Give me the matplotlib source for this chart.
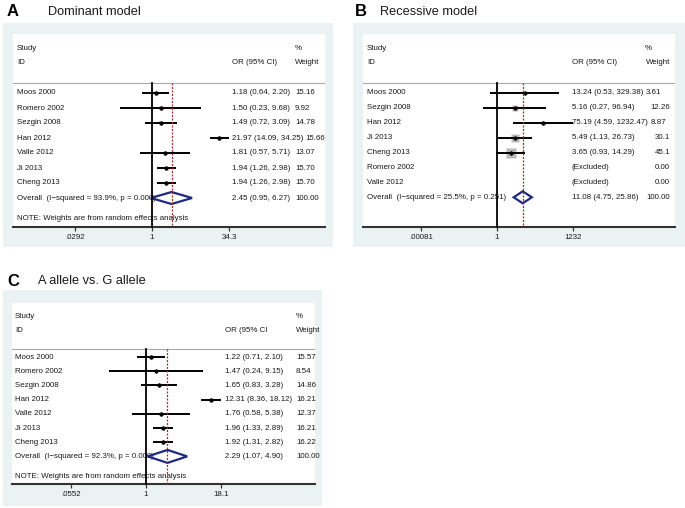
import numpy as np
import matplotlib
matplotlib.use("Agg")
import matplotlib.pyplot as plt
from matplotlib.patches import Rectangle, Polygon
from matplotlib.transforms import blended_transform_factory

plt.rcParams['font.family'] = ['Liberation Sans', 'DejaVu Sans']

W, H = 685, 508

# ---- data -------------------------------------------------------------
# A: dominant model
studies_a = ['Moos 2000', 'Romero 2002', 'Sezgin 2008', 'Han 2012',
             'Valle 2012', 'Ji 2013', 'Cheng 2013']
or_a = [1.18, 1.50, 1.49, 21.97, 1.81, 1.94, 1.94]
lo_a = [0.64, 0.23, 0.72, 14.09, 0.57, 1.26, 1.26]
hi_a = [2.20, 9.68, 3.09, 34.25, 5.71, 2.98, 2.98]
wt_a = ['15.16', '9.92', '14.78', '15.66', '13.07', '15.70', '15.70']
overall_a = [2.45, 0.95, 6.27]
isq_a, p_a = '93.9%', '0.000'
ticks_a = [0.0292, 1, 34.3]
ticklab_a = ['.0292', '1', '34.3']

# B: recessive model (nan = excluded)
studies_b = ['Moos 2000', 'Sezgin 2008', 'Han 2012', 'Ji 2013',
             'Cheng 2013', 'Romero 2002', 'Valle 2012']
or_b = [13.24, 5.16, 75.19, 5.49, 3.65, np.nan, np.nan]
lo_b = [0.53, 0.27, 4.59, 1.13, 0.93, np.nan, np.nan]
hi_b = [329.38, 96.94, 1232.47, 26.73, 14.29, np.nan, np.nan]
wt_b = ['3.61', '12.26', '8.87', '30.1', '45.1', '0.00', '0.00']
overall_b = [11.08, 4.75, 25.86]
isq_b, p_b = '25.5%', '0.251'
ticks_b = [0.00081, 1, 1232]
ticklab_b = ['.00081', '1', '1232']

# C: A allele vs. G allele
studies_c = ['Moos 2000', 'Romero 2002', 'Sezgin 2008', 'Han 2012',
             'Valle 2012', 'Ji 2013', 'Cheng 2013']
or_c = [1.22, 1.47, 1.65, 12.31, 1.76, 1.96, 1.92]
lo_c = [0.71, 0.24, 0.83, 8.36, 0.58, 1.33, 1.31]
hi_c = [2.10, 9.15, 3.28, 18.12, 5.38, 2.89, 2.82]
wt_c = ['15.57', '8.54', '14.86', '16.21', '12.37', '16.21', '16.22']
overall_c = [2.29, 1.07, 4.90]
isq_c, p_c = '92.3%', '0.000'
ticks_c = [0.0552, 1, 18.1]
ticklab_c = ['.0552', '1', '18.1']

BG = '#eaf2f3'
NAVY = '#1f2a80'
TXT = '#1a1a1a'
FS = 5.7

fig = plt.figure(figsize=(W / 100, H / 100), dpi=100)
renderer = fig.canvas.get_renderer()


def forest(letter, title, studies, ors, los, his, wts, overall, isq, pval,
           ticks, ticklabs, g):
    ox0, oy0, ox1, oy1 = g['outer']
    x0, y0, x1, y1 = g['white']
    fig.add_artist(Rectangle((ox0 / W, 1 - oy1 / H), (ox1 - ox0) / W,
                             (oy1 - oy0) / H, transform=fig.transFigure,
                             facecolor=BG, edgecolor='none', zorder=-5))
    fig.text(g['letter'][0] / W, 1 - g['letter'][1] / H, letter,
             fontsize=12, fontweight='bold', va='center', color='black')
    fig.text(g['title_x'] / W, 1 - g['letter'][1] / H, title,
             fontsize=9.2, va='center', color=TXT)

    ax = fig.add_axes([x0 / W, 1 - y1 / H, (x1 - x0) / W, (y1 - y0) / H])
    ax.set_facecolor('white')
    ax.set_xscale('log')
    scale = g['scale']
    ax.set_xlim(np.exp((x0 - g['null_x']) / scale),
                np.exp((x1 - g['null_x']) / scale))
    ax.set_ylim(y1, y0)
    for s in ['top', 'left', 'right']:
        ax.spines[s].set_visible(False)
    ax.spines['bottom'].set_color('#333333')
    ax.spines['bottom'].set_linewidth(1.5)
    ax.set_yticks([])
    ax.set_xticks(ticks)
    ax.set_xticklabels(ticklabs)
    ax.xaxis.set_minor_locator(matplotlib.ticker.NullLocator())
    ax.tick_params(axis='x', length=3, width=0.9, color='#333333',
                   labelsize=FS, pad=2, labelcolor=TXT)

    tr = blended_transform_factory(ax.transAxes, ax.transData)

    def fx(px):
        return (px - x0) / (x1 - x0)

    # header
    sep = g['sep']
    ax.text(fx(g['name_x']), g['study_y'], 'Study', transform=tr,
            fontsize=FS, va='center', color=TXT)
    ax.text(fx(g['name_x']), g['id_y'], 'ID', transform=tr,
            fontsize=FS, va='center', color=TXT)
    ax.text(fx(g['or_x']), g['id_y'], g['or_head'], transform=tr,
            fontsize=FS, va='center', color=TXT)
    ax.text(fx(g['pct_x']), g['study_y'], '%', transform=tr,
            fontsize=FS, va='center', color=TXT)
    ax.text(fx(g['wt_x']), g['id_y'], 'Weight', transform=tr, fontsize=FS,
            va='center', ha=g['wt_ha'], color=TXT, clip_on=False)
    ax.plot([0, 1], [sep, sep], transform=tr, color='#a8a8a8', lw=0.8,
            zorder=1)

    rows = [g['row0'] + i * g['step'] for i in range(len(studies) + 1)]
    k = g['box']
    for i, name in enumerate(studies):
        y = rows[i]
        ax.text(fx(g['name_x']), y, name, transform=tr, fontsize=FS,
                va='center', color=TXT)
        if np.isnan(ors[i]):
            label = '(Excluded)'
        else:
            label = '%.2f (%.2f, %.2f)' % (ors[i], los[i], his[i])
            side = k * np.sqrt(float(wts[i])) * 0.72
            ax.plot([ors[i]], [y], marker='s', ms=side, color='#b8b8b8',
                    mec='none', zorder=3)
            ax.plot([los[i], his[i]], [y, y], color='black', lw=1.4,
                    solid_capstyle='butt', zorder=4)
            ax.plot([ors[i]], [y], marker='D', ms=1.8, color='black',
                    zorder=5)
        t = ax.text(fx(g['or_x']), y, label, transform=tr, fontsize=FS,
                    va='center', color=TXT)
        # weight column; pushed right when the OR text runs into it
        right = t.get_window_extent(renderer).x1 / fig.dpi * 100
        if g['wt_ha'] == 'left':
            wx = max(g['wt_x'], right + 2.5)
            ha = 'left'
        else:
            wx, ha = g['wt_x'], 'right'
            if right + 2.5 > g['pct_x']:
                wx, ha = right + 2.5, 'left'
        ax.text(fx(wx), y, wts[i], transform=tr, fontsize=FS, va='center',
                ha=ha, color=TXT, clip_on=False)

    # overall
    y = rows[-1]
    est, lo, hi = overall
    ax.text(fx(g['name_x']), y,
            'Overall  (I\u2212squared = %s, p = %s)' % (isq, pval),
            transform=tr, fontsize=FS, va='center', color=TXT, zorder=2)
    hh = g['dh']
    ax.add_patch(Polygon([(lo, y), (est, y - hh), (hi, y), (est, y + hh)],
                         closed=True, facecolor='none', edgecolor=NAVY,
                         lw=1.6, zorder=4))
    ax.text(fx(g['or_x']), y, '%.2f (%.2f, %.2f)' % (est, lo, hi),
            transform=tr, fontsize=FS, va='center', color=TXT)
    ax.text(fx(g['wt_x']), y, '100.00', transform=tr, fontsize=FS,
            va='center', ha=g['wt_ha'], color=TXT, clip_on=False)

    if g['note'] is not None:
        ax.text(fx(g['name_x']), g['note'],
                'NOTE: Weights are from random effects analysis',
                transform=tr, fontsize=FS, va='center', color=TXT, zorder=2)

    # null line and overall line
    ax.plot([1, 1], [sep, y1], color='black', lw=1.3, zorder=6,
            clip_on=False)
    ax.plot([est, est], [sep, y1], color='#a52a2a', lw=0.9,
            dashes=(1.6, 1.2), zorder=6)
    return ax


geo_a = dict(outer=(3, 23, 333, 247), white=(13, 34, 325, 227),
             letter=(7, 12), title_x=48, null_x=152, scale=21.8,
             name_x=17, or_x=232, pct_x=295, wt_x=295, wt_ha='left',
             or_head='OR (95% CI)', study_y=49, id_y=63, sep=83,
             row0=93, step=15, note=219, box=1.0, dh=6)
geo_b = dict(outer=(353, 23, 685, 247), white=(363, 34, 675, 227),
             letter=(355, 12), title_x=380, null_x=497, scale=10.7,
             name_x=367, or_x=572, pct_x=645, wt_x=670, wt_ha='right',
             or_head='OR (95% CI)', study_y=49, id_y=63, sep=83,
             row0=93, step=14.9, note=None, box=1.49, dh=6)
geo_c = dict(outer=(3, 290, 322, 506), white=(12, 303, 315, 484),
             letter=(7, 281), title_x=38, null_x=146, scale=25.9,
             name_x=15, or_x=225, pct_x=296, wt_x=296, wt_ha='left',
             or_head='OR (95% CI', study_y=316, id_y=330, sep=349,
             row0=357, step=14.2, note=476, box=1.0, dh=6.5)

forest('A', 'Dominant model', studies_a, or_a, lo_a, hi_a, wt_a, overall_a,
       isq_a, p_a, ticks_a, ticklab_a, geo_a)
forest('B', 'Recessive model', studies_b, or_b, lo_b, hi_b, wt_b, overall_b,
       isq_b, p_b, ticks_b, ticklab_b, geo_b)
forest('C', 'A allele vs. G allele', studies_c, or_c, lo_c, hi_c, wt_c,
       overall_c, isq_c, p_c, ticks_c, ticklab_c, geo_c)

fig.savefig('out.png', dpi=100, facecolor='white')
